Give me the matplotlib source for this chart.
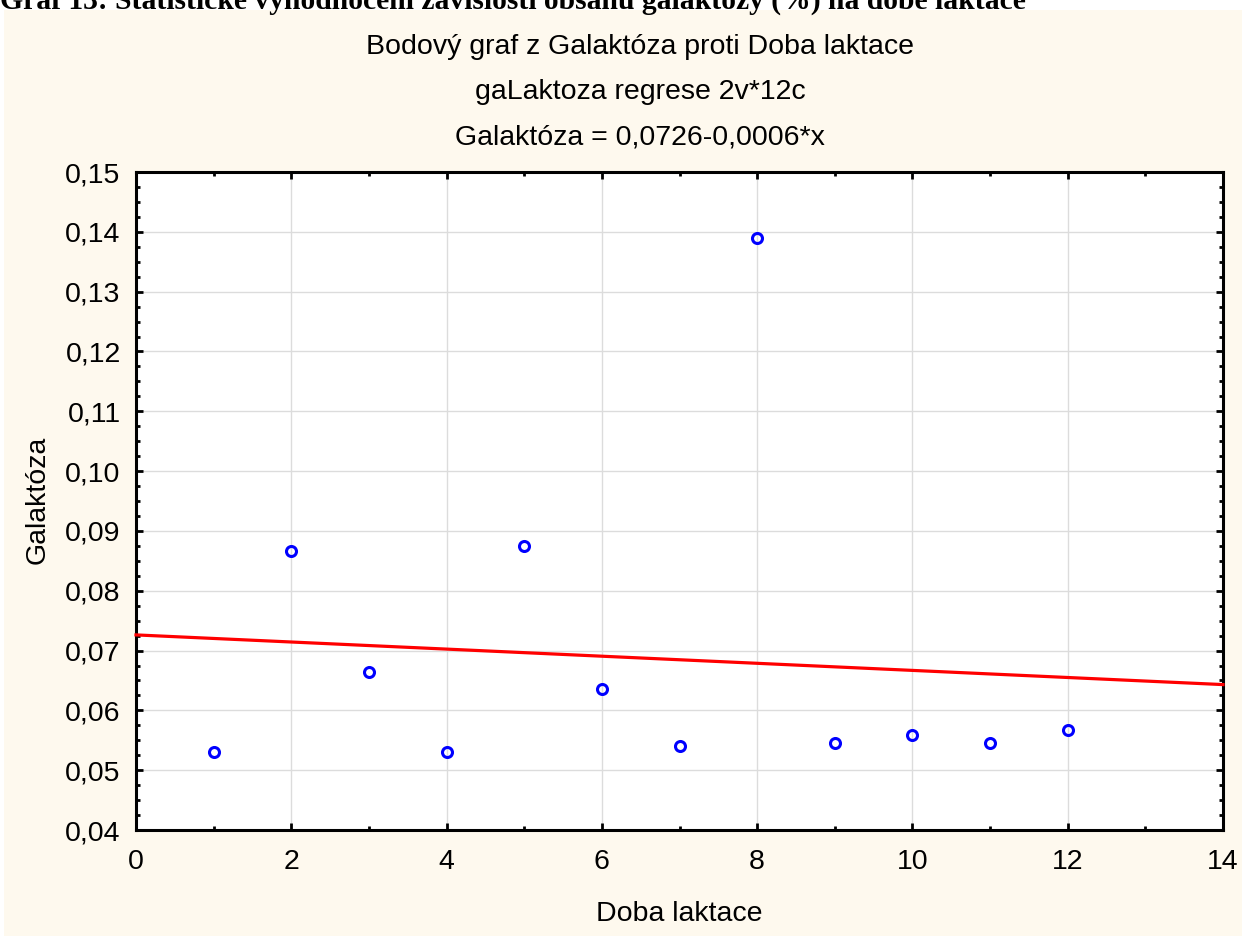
import numpy as np
import matplotlib
matplotlib.use("Agg")
import matplotlib.pyplot as plt
from matplotlib.patches import Rectangle
from matplotlib.ticker import MultipleLocator, FuncFormatter

# Lactation period (x) and galactose content (y)
doba_laktace = [1, 2, 3, 4, 5, 6, 7, 8, 9, 10, 11, 12]
galaktoza = [0.0531, 0.0866, 0.0664, 0.0531, 0.0875, 0.0636,
             0.0541, 0.1390, 0.0545, 0.0559, 0.0545, 0.0568]

heading = "Graf 13: Statistické vyhodnocení závislosti obsahu galaktózy (%) na době laktace"
title_lines = ["Bodový graf z Galaktóza proti Doba laktace",
               "gaLaktoza regrese 2v*12c",
               "Galaktóza = 0,0726-0,0006*x"]
x_label = "Doba laktace"
y_label = "Galaktóza"

W, H, DPI = 1242, 936, 100
fig = plt.figure(figsize=(W / DPI, H / DPI), dpi=DPI)
fig.patch.set_facecolor("white")

def fx(px):
    return px / W

def fy(py):
    return 1 - py / H

# cream panel behind the chart
fig.patches.append(Rectangle((fx(4), 0), 1 - fx(4), fy(10), transform=fig.transFigure,
                             facecolor="#FEF9EE", edgecolor="none", zorder=-10))

# document heading above the panel
fig.text(fx(0), fy(9), heading, fontsize=21.3, fontweight="bold",
         family="Liberation Serif", ha="left", va="baseline", zorder=1)

sans = "Liberation Sans"
fs = 20.5
for i, line in enumerate(title_lines):
    fig.text(fx(640), fy(47 + 45 * i), line, fontsize=fs, family=sans,
             ha="center", va="center")

ax = fig.add_axes([fx(136), fy(830), fx(1223) - fx(136), fy(172) - fy(830)])
ax.set_facecolor("white")
ax.set_xlim(0, 14)
ax.set_ylim(0.04, 0.15)

ax.xaxis.set_major_locator(MultipleLocator(2))
ax.xaxis.set_minor_locator(MultipleLocator(1))
ax.yaxis.set_major_locator(MultipleLocator(0.01))
ax.yaxis.set_minor_locator(MultipleLocator(0.0025))
ax.xaxis.set_major_formatter(FuncFormatter(lambda v, p: f"{v:.0f}"))
ax.yaxis.set_major_formatter(FuncFormatter(lambda v, p: f"{v:.2f}".replace(".", ",")))

ax.grid(True, which="major", color="#DCDCDC", linewidth=1.0)
ax.set_axisbelow(True)

for s in ax.spines.values():
    s.set_linewidth(2.2)
    s.set_color("black")

ax.tick_params(which="both", direction="in", top=True, right=True,
               color="black", width=2.0)
ax.tick_params(which="major", length=5)
ax.tick_params(which="minor", length=3)
ax.tick_params(axis="x", which="major", labelsize=fs, pad=14)
ax.tick_params(axis="y", which="major", labelsize=fs, pad=11)
for lab in ax.get_xticklabels() + ax.get_yticklabels():
    lab.set_family(sans)

# least-squares line
slope, intercept = np.polyfit(doba_laktace, galaktoza, 1)
xs = np.array([0, 14])
ax.plot(xs, intercept + slope * xs, color="#FF0000", linewidth=2.3, zorder=3,
        clip_on=False)

ax.plot(doba_laktace, galaktoza, linestyle="none", marker="o", markersize=7.2,
        markerfacecolor="none", markeredgecolor="#0000FF", markeredgewidth=2.2,
        zorder=4)

fig.text(fx(679), fy(921), x_label, fontsize=fs, family=sans, ha="center", va="baseline")
fig.text(fx(38), fy(500), y_label, fontsize=fs, family=sans, ha="center", va="center",
         rotation=90)

fig.savefig("out.png", dpi=DPI)
